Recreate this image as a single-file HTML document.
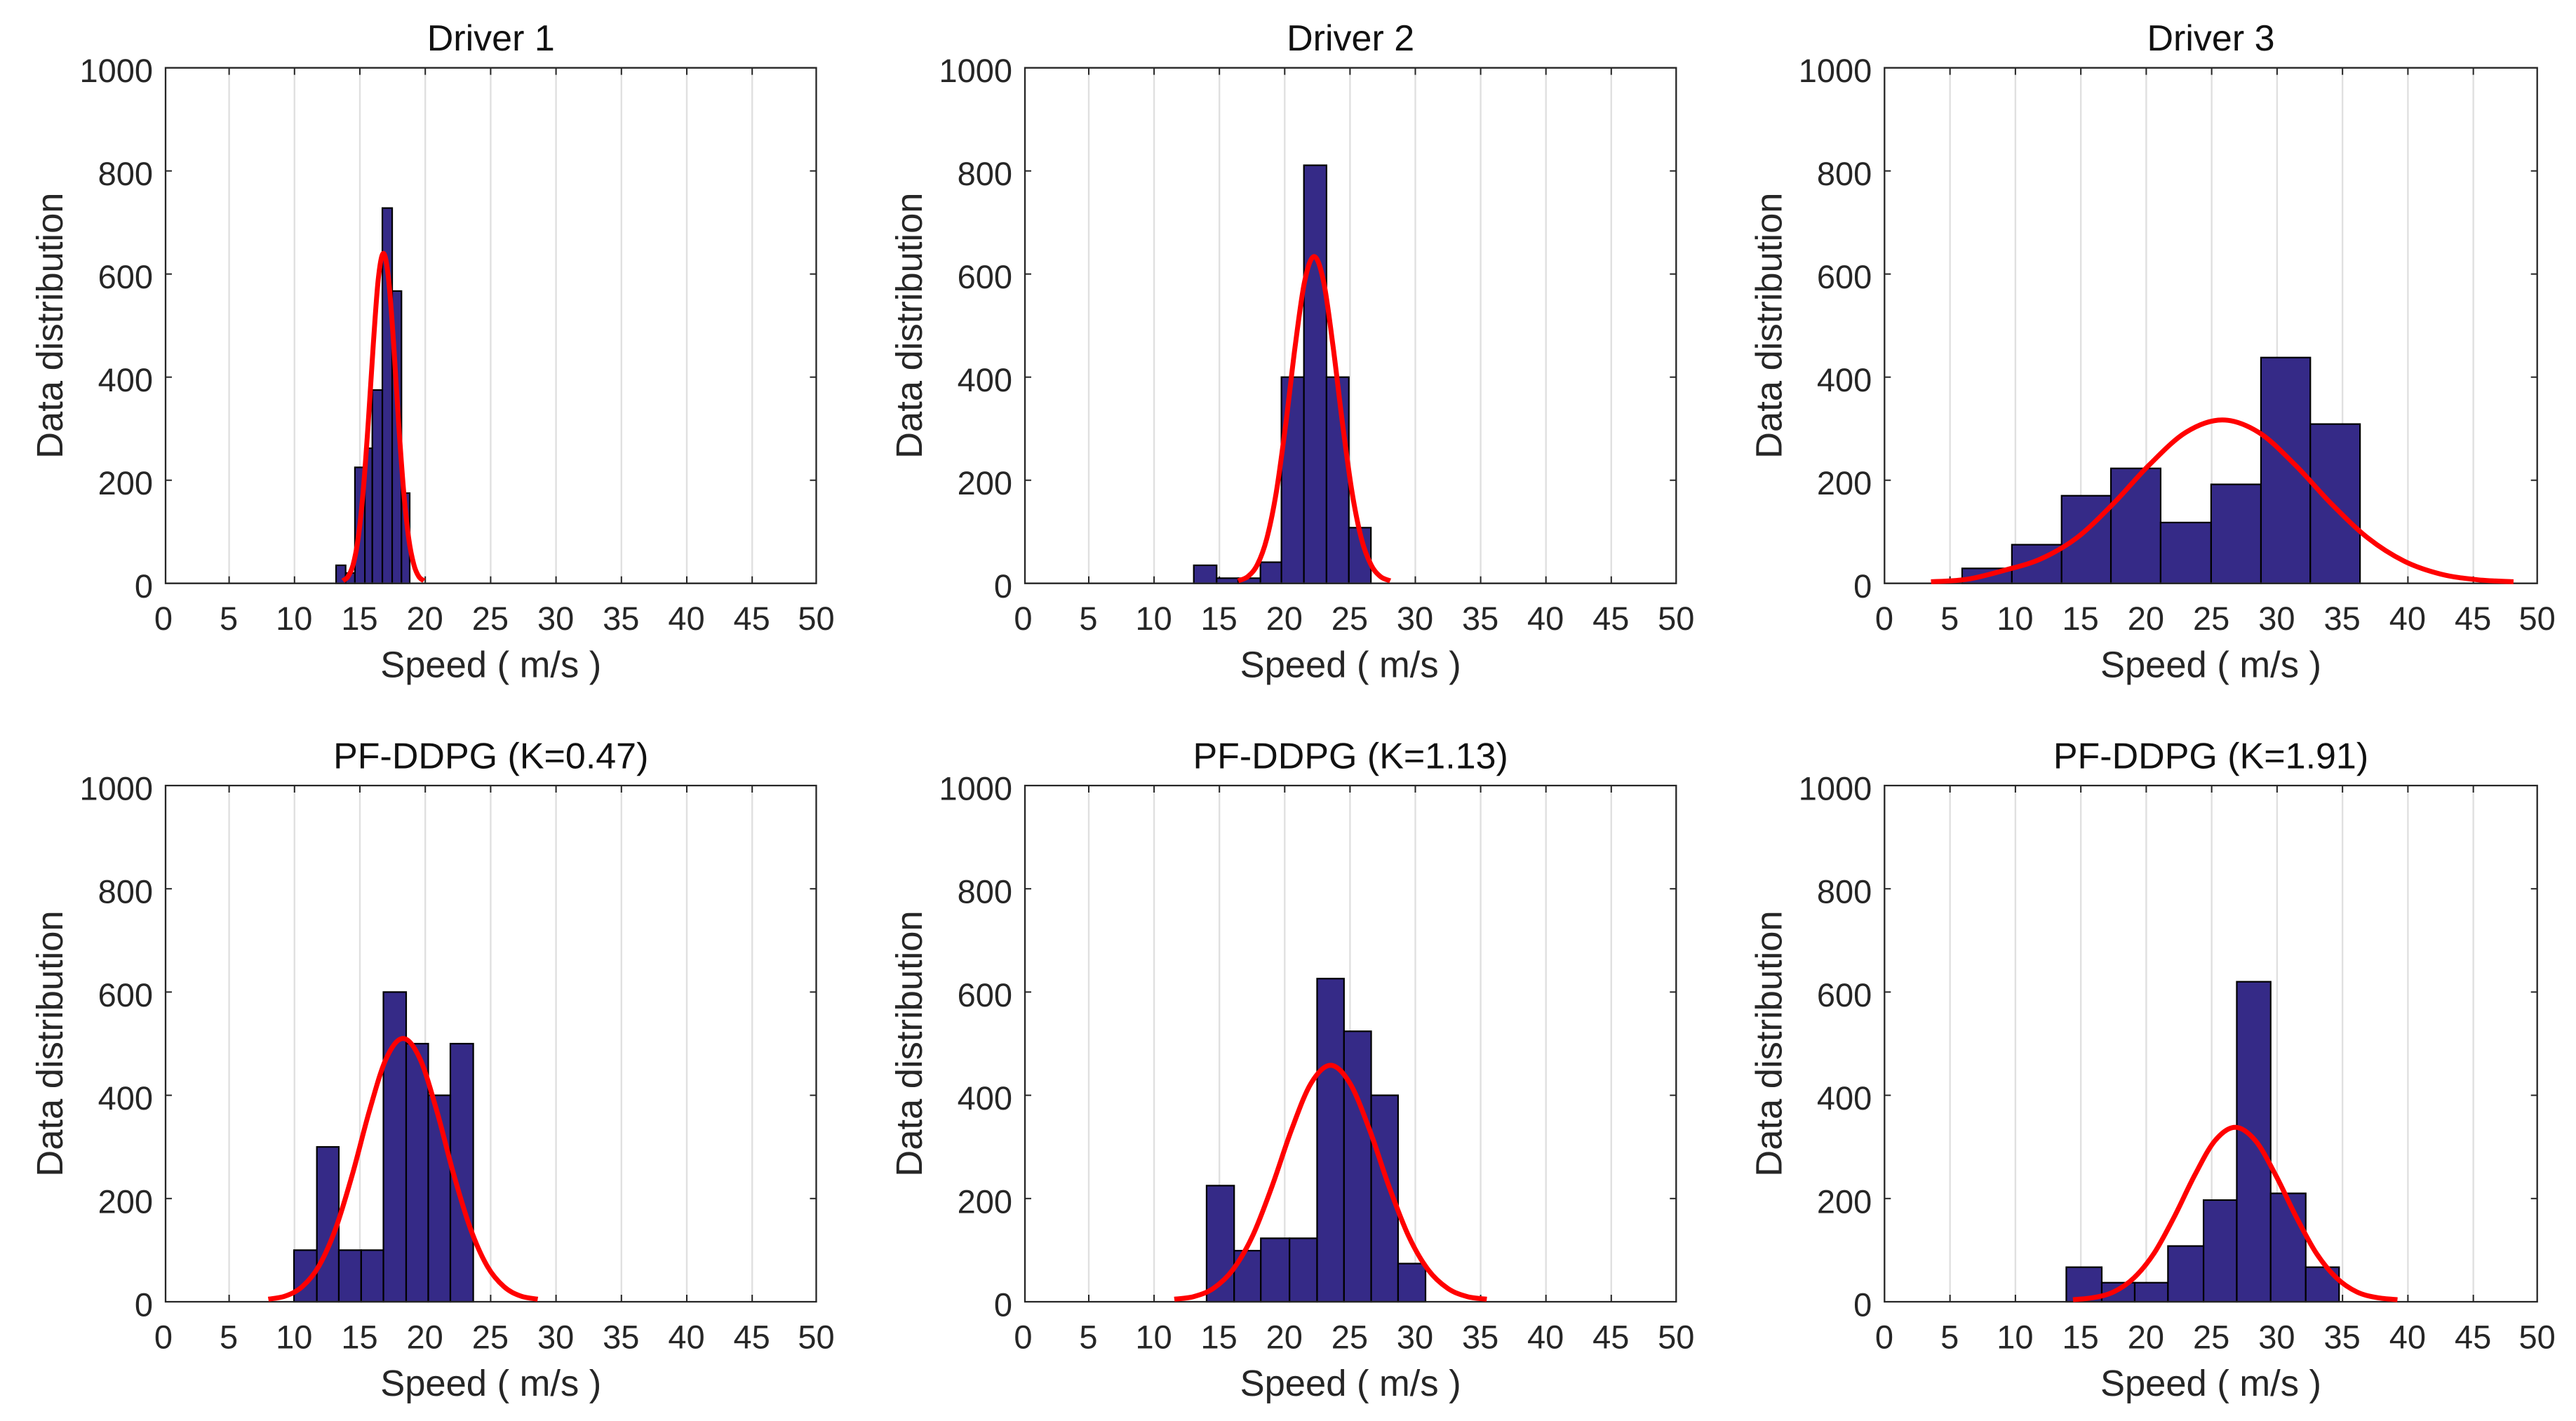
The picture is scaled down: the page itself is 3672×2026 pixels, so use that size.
<!DOCTYPE html>
<html lang="en">
<head>
<meta charset="utf-8">
<title>Speed distribution histograms</title>
<style>
  html, body { margin: 0; padding: 0; background: #ffffff; }
  svg { display: block; }
  text { font-family: "Liberation Sans", Arial, sans-serif; text-rendering: geometricPrecision; }
</style>
</head>
<body>
<svg id="figure" xmlns="http://www.w3.org/2000/svg" width="3672" height="2026" viewBox="0 0 3672 2026">
  <rect x="0" y="0" width="3672" height="2026" fill="#ffffff"></rect>
</svg>
<script>
// Shared axis tick labels
const xTicks = [0, 5, 10, 15, 20, 25, 30, 35, 40, 45, 50];
const yTicks = [0, 200, 400, 600, 800, 1000];
const xMax = 50;
const yMax = 1000;

// Panel titles
const panelTitles = ["Driver 1", "Driver 2", "Driver 3", "PF-DDPG (K=0.47)", "PF-DDPG (K=1.13)", "PF-DDPG (K=1.91)"];

// Driver 1
const d1Edges = [13.18, 13.91, 14.62, 15.38, 15.95, 16.72, 17.47, 18.18, 18.81];
const d1Counts = [35, 20, 225, 262, 375, 728, 567, 175];
const d1CurveX = [13.7, 14.09, 14.48, 14.86, 15.25, 15.64, 16.03, 16.41, 16.8, 17.19, 17.58, 17.96, 18.35, 18.74, 19.13, 19.51, 19.9];
const d1CurveY = [5, 13, 36, 86, 178, 312, 465, 591, 640, 591, 465, 312, 178, 86, 36, 13, 5];

// Driver 2
const d2Edges = [13.04, 14.79, 16.44, 18.14, 19.75, 21.47, 23.2, 24.91, 26.6];
const d2Counts = [35, 10, 10, 41, 400, 811, 400, 108];
const d2CurveX = [16.44, 17.17, 17.9, 18.62, 19.35, 20.08, 20.8, 21.52, 22.25, 22.98, 23.7, 24.43, 25.16, 25.88, 26.61, 27.34, 28.08];
const d2CurveY = [5, 13, 36, 86, 176, 309, 460, 585, 634, 585, 460, 309, 176, 86, 36, 13, 5];

// Driver 3
const d3Edges = [5.93, 9.73, 13.53, 17.3, 21.1, 24.96, 28.77, 32.54, 36.34];
const d3Counts = [29, 75, 170, 223, 118, 192, 438, 309];
const d3CurveX = [3.55, 6.33, 9.11, 11.9, 14.68, 17.46, 20.24, 23.03, 25.81, 28.59, 31.37, 34.16, 36.94, 39.72, 42.5, 45.29, 48.07];
const d3CurveY = [3, 8, 25, 47, 88, 154, 230, 293, 317, 293, 230, 154, 88, 43, 18, 7, 3];

// PF-DDPG K=0.47
const k047Edges = [9.96, 11.71, 13.39, 15.1, 16.8, 18.54, 20.23, 21.92, 23.67];
const k047Counts = [100, 300, 100, 100, 600, 500, 400, 500];
const k047CurveX = [8, 9.29, 10.58, 11.86, 13.15, 14.44, 15.73, 17.01, 18.3, 19.59, 20.88, 22.16, 23.45, 24.74, 26.03, 27.31, 28.6];
const k047CurveY = [5, 11, 29, 69, 142, 248, 370, 471, 510, 471, 370, 248, 142, 69, 29, 11, 5];

// PF-DDPG K=1.13
const k113Edges = [14.02, 16.13, 18.17, 20.37, 22.48, 24.54, 26.62, 28.68, 30.78];
const k113Counts = [225, 99, 123, 123, 626, 524, 400, 74];
const k113CurveX = [11.55, 13.04, 14.54, 16.03, 17.53, 19.02, 20.52, 22.01, 23.51, 25, 26.5, 27.99, 29.49, 30.98, 32.48, 33.97, 35.47];
const k113CurveY = [5, 10, 26, 62, 127, 223, 333, 423, 458, 423, 333, 223, 127, 62, 26, 10, 5];

// PF-DDPG K=1.91
const k191Edges = [13.89, 16.6, 19.12, 21.66, 24.38, 26.92, 29.51, 32.19, 34.74];
const k191Counts = [67, 37, 37, 108, 197, 620, 210, 67];
const k191CurveX = [14.4, 15.95, 17.5, 19.05, 20.6, 22.15, 23.7, 25.25, 26.8, 28.35, 29.9, 31.45, 33, 34.55, 36.1, 37.65, 39.2];
const k191CurveY = [4, 8, 19, 46, 94, 165, 245, 312, 338, 312, 245, 165, 94, 46, 19, 8, 4];

const edgeSets = [d1Edges, d2Edges, d3Edges, k047Edges, k113Edges, k191Edges];
const countSets = [d1Counts, d2Counts, d3Counts, k047Counts, k113Counts, k191Counts];
const curveXSets = [d1CurveX, d2CurveX, d3CurveX, k047CurveX, k113CurveX, k191CurveX];
const curveYSets = [d1CurveY, d2CurveY, d3CurveY, k047CurveY, k113CurveY, k191CurveY];

// Layout of the six axes on the canvas
const columnLayout = [
  { origin: 233.4, scale: 18.64, left: 236, right: 1163.5 },
  { origin: 1458.9, scale: 18.62, left: 1461, right: 2389.3 },
  { origin: 2686.4, scale: 18.65, left: 2686.3, right: 3616.7 }
];
const rowLayout = [
  { top: 96.7, bottom: 831.7 },
  { top: 1120, bottom: 1856 }
];

const SVG_NS = "http://www.w3.org/2000/svg";
const svg = document.getElementById("figure");
const INK = "#262626";

function make(parent, tag, attrs, content) {
  const node = document.createElementNS(SVG_NS, tag);
  for (const key in attrs) node.setAttribute(key, attrs[key]);
  if (content !== undefined) node.textContent = content;
  parent.appendChild(node);
  return node;
}

function smoothPath(points) {
  let d = "M" + points[0][0].toFixed(2) + " " + points[0][1].toFixed(2);
  for (let i = 0; i < points.length - 1; i++) {
    const p0 = points[Math.max(0, i - 1)];
    const p1 = points[i];
    const p2 = points[i + 1];
    const p3 = points[Math.min(points.length - 1, i + 2)];
    const c1x = p1[0] + (p2[0] - p0[0]) / 6;
    const c1y = p1[1] + (p2[1] - p0[1]) / 6;
    const c2x = p2[0] - (p3[0] - p1[0]) / 6;
    const c2y = p2[1] - (p3[1] - p1[1]) / 6;
    d += "C" + c1x.toFixed(2) + " " + c1y.toFixed(2) + " " + c2x.toFixed(2) + " " + c2y.toFixed(2) + " " + p2[0].toFixed(2) + " " + p2[1].toFixed(2);
  }
  return d;
}

panelTitles.forEach(function (title, index) {
  const col = columnLayout[index % 3];
  const row = rowLayout[Math.floor(index / 3)];
  const xAxis = function (v) { return col.origin + v * col.scale; };
  const yAxis = function (v) { return row.bottom - (v / yMax) * (row.bottom - row.top); };
  const middleX = (col.left + col.right) / 2;
  const middleY = (row.top + row.bottom) / 2;

  const group = make(svg, "g", {});
  
  

  // Grid lines and x ticks
  xTicks.forEach(function (tick) {
    const x = xAxis(tick);
    if (tick !== 0 && tick !== xMax) {
      const grid = make(group, "line", { x1: x, x2: x, y1: row.top, y2: row.bottom, stroke: "#e0e0e0", "stroke-width": 2.4 });
      
      
      const tickBottom = make(group, "line", { x1: x, x2: x, y1: row.bottom, y2: row.bottom - 10, stroke: INK, "stroke-width": 2 });
      
      
      const tickTop = make(group, "line", { x1: x, x2: x, y1: row.top, y2: row.top + 10, stroke: INK, "stroke-width": 2 });
      
      
    }
    const labelX = tick === xMax ? col.right : x - 0.5;
    const label = make(group, "text", { x: labelX, y: row.bottom + 66.5, "text-anchor": "middle", "font-size": 47, fill: INK }, String(tick));
    
    
  });

  // Y ticks
  yTicks.forEach(function (tick) {
    const y = yAxis(tick);
    if (tick !== 0 && tick !== yMax) {
      const tickLeft = make(group, "line", { x1: col.left, x2: col.left + 9, y1: y, y2: y, stroke: INK, "stroke-width": 2 });
      
      
      const tickRight = make(group, "line", { x1: col.right, x2: col.right - 9, y1: y, y2: y, stroke: INK, "stroke-width": 2 });
      
      
    }
    const label = make(group, "text", { x: col.left - 18, y: y + 20.5, "text-anchor": "end", "font-size": 47, fill: INK }, String(tick));
    
    
  });

  // Histogram bars
  const edges = edgeSets[index];
  countSets[index].forEach(function (count, b) {
    const x1 = xAxis(edges[b]);
    const x2 = xAxis(edges[b + 1]);
    const y = yAxis(count);
    const bar = make(group, "rect", { x: x1, y: y, width: x2 - x1, height: row.bottom - y, fill: "#352a87", stroke: "#000000", "stroke-width": 2.2 });
    
    
  });

  // Axes box
  const frame = make(group, "path", {
    d: "M" + col.left + " " + row.top + "H" + col.right + "V" + row.bottom + "H" + col.left + "Z",
    fill: "none", stroke: INK, "stroke-width": 2.3
  });
  
  

  // Fitted curve
  const curveX = curveXSets[index];
  const curveY = curveYSets[index];
  const points = curveX.map(function (v, i) { return [xAxis(v), yAxis(curveY[i])]; });
  const curve = make(group, "path", { d: smoothPath(points), fill: "none", stroke: "#ff0000", "stroke-width": 7, "stroke-linejoin": "round" });
  
  

  // Titles and axis labels
  const titleText = make(group, "text", { x: middleX, y: row.top - 24.5, "text-anchor": "middle", "font-size": 52, fill: "#111111" }, title);
  
  

  const xTitle = make(group, "text", { x: middleX, y: row.bottom + 134, "text-anchor": "middle", "font-size": 52.5, fill: INK }, "Speed ( m/s )");
  
  

  const yLabelX = col.left - 147;
  const yTitle = make(group, "text", { x: yLabelX, y: middleY, "text-anchor": "middle", "font-size": 52.5, fill: INK, transform: "rotate(-90 " + yLabelX + " " + middleY + ")" }, "Data distribution");
  
  
});
</script>
</body>
</html>
